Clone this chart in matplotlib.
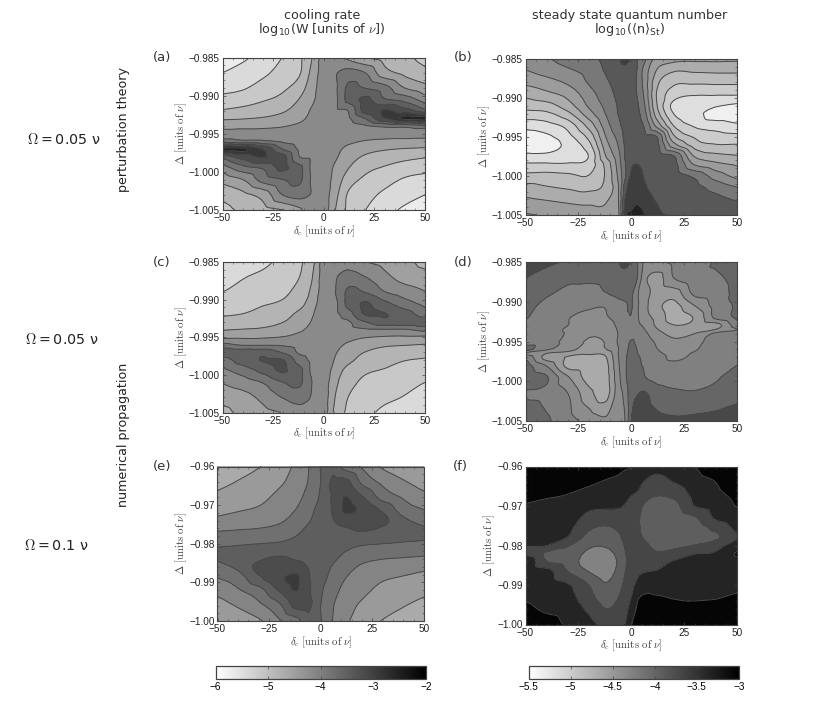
import numpy as np
import matplotlib
matplotlib.use("Agg")
import matplotlib.pyplot as plt
import matplotlib.tri as mtri
from matplotlib.ticker import MultipleLocator, FuncFormatter

plt.rcParams['mathtext.fontset'] = 'cm'
plt.rcParams['font.family'] = ['DejaVu Sans']

# grid positions, the grids are in contour band numbers (0 = lightest band)
delta_c = [-50, -40, -30, -20, -12, -6, 0, 6, 12, 20, 30, 40, 50]
delta_c_fine = [-50, -40, -30, -20, -12, -6, -3, 0, 3, 6, 12, 20, 30, 40, 50]
rows_a = [-.985, -.987, -.989, -.9905, -.992, -.993, -.994, -.995, -.996, -.997, -.998, -.9995, -1.001, -1.003, -1.005]
rows_b = [-.985, -.9865, -.988, -.9895, -.991, -.992, -.9935, -.995, -.996, -.9975, -.9985, -1.0, -1.0015, -1.0035, -1.005]
rows_d = [-.985, -.987, -.989, -.9905, -.992, -.993, -.9935, -.994, -.995, -.996, -.9965, -.997, -.998, -.9995, -1.0015, -1.005]
rows_e = [-.96, -.964, -.968, -.971, -.974, -.976, -.978, -.98, -.982, -.984, -.986, -.989, -.992, -.996, -1.0]
rows_f = [-.96, -.9635, -.967, -.97, -.973, -.9755, -.978, -.98, -.982, -.984, -.9865, -.99, -.993, -.996, -1.0]

bands_a = [.3, .8, 1.4, 2.05, 2.8, 3.95, 5.5, 5.85, 4.8, 4.0, 3.6, 3.2, 2.7], \
    [1.0, 1.4, 1.8, 2.4, 2.9, 4.25, 5.5, 5.95, 6.4, 6.05, 4.37, 3.75, 3.27], \
    [1.7, 1.9, 2.4, 2.85, 3.5, 4.6, 5.5, 5.9, 7.2, 7.0, 6.4, 5.0, 4.37], \
    [2.3, 2.55, 2.9, 3.3, 4.05, 4.8, 5.5, 5.85, 7.3, 8.2, 7.1, 6.6, 5.5], \
    [3.1, 3.3, 3.55, 3.9, 4.5, 5.1, 5.5, 5.85, 6.0, 8.3, 9.1, 8.5, 7.5], \
    [3.85, 3.95, 4.1, 4.4, 4.75, 5.25, 5.5, 5.7, 5.85, 6.95, 8.9, 10.2, 10.4], \
    [4.7, 4.75, 4.8, 4.95, 5.2, 5.35, 5.5, 5.6, 5.7, 5.85, 6.2, 6.3, 6.6], \
    [5.45, 5.45, 5.45, 5.45, 5.5, 5.5, 5.5, 5.5, 5.5, 5.45, 5.45, 5.45, 5.45], \
    [6.6, 6.3, 6.2, 5.85, 5.7, 5.6, 5.5, 5.35, 5.2, 4.95, 4.8, 4.75, 4.7], \
    [10.4, 10.2, 8.9, 6.95, 5.85, 5.7, 5.5, 5.25, 4.75, 4.4, 4.1, 3.95, 3.85], \
    [7.5, 8.5, 9.1, 8.3, 6.0, 5.85, 5.5, 5.1, 4.5, 3.9, 3.55, 3.3, 3.1], \
    [5.5, 6.6, 7.1, 8.2, 7.3, 5.85, 5.5, 4.8, 4.05, 3.3, 2.9, 2.55, 2.3], \
    [4.37, 5.0, 6.4, 7.0, 7.2, 5.9, 5.5, 4.6, 3.5, 2.85, 2.4, 1.9, 1.7], \
    [3.27, 3.75, 4.37, 6.05, 6.4, 5.95, 5.5, 4.25, 2.9, 2.4, 1.8, 1.4, 1.0], \
    [2.7, 3.2, 3.6, 4.0, 4.8, 5.85, 5.5, 3.95, 2.8, 2.05, 1.4, .8, .3]

bands_c = [1.4, 1.7, 1.8, 2.3, 2.85, 3.6, 5.5, 5.95, 5.6, 5.05, 4.7, 4.3, 3.7], \
    [1.6, 1.95, 2.2, 2.5, 3.0, 3.9, 5.5, 5.95, 6.4, 6.05, 5.25, 4.65, 4.4], \
    [2.0, 2.3, 2.6, 2.8, 3.4, 4.2, 5.5, 6.02, 7.2, 7.0, 6.05, 5.5, 5.05], \
    [2.45, 2.6, 2.9, 3.15, 3.6, 4.55, 5.5, 5.85, 7.3, 8.1, 7.25, 6.4, 5.7], \
    [2.9, 3.05, 3.4, 3.65, 4.3, 4.9, 5.5, 5.8, 6.5, 8.0, 8.05, 7.5, 6.6], \
    [3.4, 3.55, 3.7, 4.0, 4.5, 5.05, 5.5, 5.7, 5.85, 6.9, 7.65, 7.6, 7.7], \
    [3.95, 4.05, 4.15, 4.55, 4.85, 5.25, 5.5, 5.65, 5.7, 5.85, 5.9, 5.9, 6.3], \
    [4.8, 4.85, 4.9, 5.05, 5.3, 5.45, 5.5, 5.45, 5.3, 5.05, 4.9, 4.85, 4.8], \
    [6.3, 5.9, 5.9, 5.85, 5.7, 5.65, 5.5, 5.25, 4.85, 4.55, 4.15, 4.05, 3.95], \
    [7.7, 7.6, 7.65, 6.9, 5.85, 5.7, 5.5, 5.05, 4.5, 4.0, 3.7, 3.55, 3.4], \
    [6.6, 7.5, 8.05, 8.0, 6.5, 5.8, 5.5, 4.9, 4.3, 3.65, 3.4, 3.05, 2.9], \
    [5.7, 6.4, 7.25, 8.1, 7.3, 5.85, 5.5, 4.55, 3.6, 3.15, 2.9, 2.6, 2.45], \
    [5.05, 5.5, 6.05, 7.0, 7.2, 6.02, 5.5, 4.2, 3.4, 2.8, 2.6, 2.3, 2.0], \
    [4.4, 4.65, 5.25, 6.05, 6.4, 5.95, 5.5, 3.9, 3.0, 2.5, 2.2, 1.95, 1.6], \
    [3.7, 4.3, 4.7, 5.05, 5.6, 5.95, 5.5, 3.6, 2.85, 2.3, 1.8, 1.7, 1.4]

bands_e = [.35, .65, .95, 1.5, 2.2, 2.95, 4.05, 4.8, 3.6, 2.85, 1.85, 1.4, 1.2], \
    [.7, 1.05, 1.45, 1.85, 2.4, 3.05, 4.0, 5.2, 5.3, 3.8, 2.75, 2.1, 1.6], \
    [1.25, 1.55, 1.75, 2.25, 2.65, 3.4, 4.15, 5.15, 6.05, 5.1, 3.65, 2.9, 2.3], \
    [1.65, 1.9, 2.1, 2.5, 3.0, 3.6, 4.4, 5.1, 6.2, 5.8, 4.8, 3.5, 2.95], \
    [2.25, 2.4, 2.6, 2.85, 3.4, 3.9, 4.5, 4.95, 5.5, 5.5, 5.3, 4.2, 3.65], \
    [2.8, 2.9, 3.0, 3.25, 3.7, 4.15, 4.5, 4.7, 4.95, 5.15, 4.9, 4.5, 4.1], \
    [3.3, 3.4, 3.55, 3.75, 4.0, 4.35, 4.5, 4.6, 4.7, 4.75, 4.65, 4.55, 4.25], \
    [3.75, 3.85, 4.0, 4.1, 4.3, 4.45, 4.5, 4.45, 4.3, 4.1, 4.0, 3.85, 3.75], \
    [4.25, 4.55, 4.65, 4.75, 4.7, 4.6, 4.5, 4.35, 4.0, 3.75, 3.55, 3.4, 3.3], \
    [4.1, 4.5, 4.9, 5.15, 4.95, 4.7, 4.5, 4.15, 3.7, 3.25, 3.0, 2.9, 2.8], \
    [3.65, 4.2, 5.3, 5.5, 5.5, 4.95, 4.5, 3.9, 3.4, 2.85, 2.6, 2.4, 2.25], \
    [2.95, 3.5, 4.8, 5.8, 6.2, 5.1, 4.4, 3.6, 3.0, 2.5, 2.1, 1.9, 1.65], \
    [2.3, 2.9, 3.65, 5.1, 6.05, 5.15, 4.15, 3.4, 2.65, 2.25, 1.75, 1.55, 1.25], \
    [1.6, 2.1, 2.75, 3.8, 5.3, 5.2, 4.0, 3.05, 2.4, 1.85, 1.45, 1.05, .7], \
    [1.2, 1.4, 1.85, 2.85, 3.6, 4.8, 4.05, 2.95, 2.2, 1.5, .95, .65, .35]

bands_b = [6.5, 6.9, 7.4, 7.7, 8.3, 8.9, 9.3, 8.9, 8.0, 7.3, 5.6, 5.35, 5.25, 5.25, 5.2], \
    [5.95, 6.4, 6.85, 7.35, 8.1, 8.6, 8.75, 8.6, 7.9, 6.7, 4.95, 4.1, 4.15, 4.2, 4.2], \
    [5.2, 5.6, 6.15, 7.1, 7.85, 8.4, 8.6, 8.5, 7.8, 6.7, 4.3, 3.2, 3.15, 3.2, 3.2], \
    [4.3, 4.75, 5.35, 6.6, 7.55, 8.25, 8.5, 8.5, 7.9, 6.9, 3.95, 2.55, 2.1, 2.1, 2.1], \
    [3.35, 3.6, 4.55, 6.15, 7.25, 8.1, 8.4, 8.5, 8.1, 7.2, 4.1, 1.7, 1.55, 1.1, .8], \
    [2.65, 2.8, 3.75, 5.6, 7.05, 8.05, 8.35, 8.5, 8.2, 7.45, 4.5, 2.0, 1.4, .5, .5], \
    [1.4, 1.65, 2.4, 4.4, 6.55, 7.8, 8.3, 8.5, 8.35, 7.95, 5.7, 2.95, 1.85, 1.5, 1.15], \
    [.5, .8, 1.65, 3.3, 6.0, 7.35, 8.2, 8.5, 8.5, 8.3, 8.05, 4.25, 2.9, 2.5, 2.35], \
    [.5, .5, 1.3, 2.7, 5.6, 7.1, 8.1, 8.5, 8.5, 8.5, 8.3, 5.35, 3.5, 3.05, 3.05], \
    [1.3, 1.3, 1.2, 2.05, 5.0, 6.7, 8.05, 8.6, 8.7, 8.7, 8.5, 8.1, 4.95, 4.35, 4.1], \
    [2.15, 2.15, 2.15, 2.4, 4.3, 6.5, 7.9, 8.85, 9.0, 8.75, 8.55, 8.35, 5.9, 5.25, 4.85], \
    [3.3, 3.35, 3.2, 3.05, 4.15, 6.25, 7.8, 9.2, 9.4, 8.95, 8.6, 8.5, 7.8, 6.55, 5.7], \
    [4.35, 4.1, 3.9, 3.75, 4.3, 6.0, 8.5, 9.4, 9.6, 9.15, 8.7, 8.55, 8.3, 7.65, 7.05], \
    [5.4, 5.2, 5.0, 4.9, 5.0, 6.0, 9.1, 9.7, 9.95, 9.6, 9.0, 8.7, 8.5, 8.4, 8.1], \
    [6.1, 5.9, 5.6, 5.5, 5.3, 5.85, 9.6, 10.2, 10.6, 10.1, 9.2, 8.95, 8.6, 8.5, 8.4]

bands_d = [5.5, 5.2, 4.9, 4.7, 4.8, 5.0, 5.3, 4.9, 4.05, 2.9, 2.95, 3.2, 3.5, 4.1, 4.5], \
    [5.0, 4.6, 4.2, 4.2, 4.3, 4.5, 4.6, 4.5, 3.95, 2.4, 1.6, 3.0, 3.7, 3.85, 4.3], \
    [4.45, 4.1, 3.8, 3.6, 3.95, 4.25, 4.3, 4.2, 3.1, 2.6, 1.5, 1.4, 3.2, 3.5, 4.3], \
    [4.25, 3.8, 3.55, 3.15, 3.1, 3.65, 3.85, 4.1, 3.1, 2.4, 1.3, .7, 2.0, 3.4, 4.15], \
    [4.05, 3.65, 3.05, 2.75, 2.9, 3.4, 3.7, 3.95, 3.1, 2.5, 1.7, .6, 1.1, 3.2, 4.2], \
    [3.85, 3.5, 3.0, 2.5, 2.5, 3.2, 3.5, 3.8, 3.2, 2.9, 1.85, 1.05, 1.3, 1.6, 3.5], \
    [3.75, 3.5, 2.85, 2.3, 2.35, 3.1, 3.4, 3.65, 3.3, 3.05, 2.1, 1.35, 1.75, 2.05, 3.0], \
    [3.7, 3.45, 2.9, 2.15, 2.3, 3.05, 3.35, 3.55, 3.5, 3.25, 2.4, 1.7, 2.0, 3.2, 3.5], \
    [3.4, 3.3, 2.75, 1.85, 2.1, 3.1, 3.4, 4.1, 3.75, 3.5, 2.85, 2.2, 2.6, 3.55, 3.7], \
    [4.4, 3.1, 2.5, 1.35, 1.95, 3.0, 3.6, 4.3, 3.95, 3.65, 3.05, 2.6, 2.9, 3.7, 3.8], \
    [2.9, 2.0, 1.5, 1.1, 1.25, 3.05, 3.7, 4.4, 4.0, 3.8, 3.2, 2.8, 3.1, 3.75, 3.85], \
    [3.8, 1.6, .9, .8, .95, 3.0, 3.75, 4.5, 4.1, 3.85, 3.35, 2.85, 3.2, 3.8, 3.9], \
    [4.5, 2.9, .7, .6, .7, 2.9, 3.8, 4.6, 4.2, 3.9, 3.4, 3.2, 3.3, 3.85, 4.0], \
    [4.5, 4.1, 2.1, .6, .6, 2.75, 3.75, 4.7, 4.8, 4.1, 3.65, 3.5, 3.55, 3.9, 4.4], \
    [3.95, 3.7, 3.0, 1.3, .6, 2.6, 3.3, 4.7, 4.95, 5.1, 4.5, 4.2, 4.1, 4.3, 4.7], \
    [4.7, 4.15, 3.4, 2.7, 2.2, 2.5, 3.0, 5.0, 5.6, 5.5, 5.3, 5.2, 5.3, 5.4, 5.5]

bands_f = [4.9, 4.8, 4.6, 4.4, 4.3, 4.2, 4.1, 4.05, 4.0, 3.9, 3.4, 3.7, 4.0, 4.5, 5.0], \
    [4.6, 4.5, 4.35, 4.2, 3.98, 3.85, 3.7, 3.6, 3.5, 3.05, 2.7, 3.1, 3.7, 4.05, 4.6], \
    [4.2, 4.1, 4.0, 3.7, 3.5, 3.45, 3.25, 3.05, 2.9, 2.5, 2.1, 2.3, 3.3, 3.8, 4.25], \
    [3.95, 3.85, 3.8, 3.25, 3.15, 3.1, 2.95, 2.75, 2.55, 1.9, 1.5, 1.65, 3.0, 3.45, 4.05], \
    [3.7, 3.6, 3.55, 2.65, 2.5, 2.65, 2.6, 2.55, 2.2, 1.6, 1.4, 1.4, 1.9, 3.15, 3.7], \
    [3.5, 3.4, 3.25, 2.15, 1.9, 2.15, 2.4, 2.45, 2.2, 1.7, 1.45, 1.35, 1.5, 2.3, 3.3], \
    [3.3, 3.2, 2.95, 1.65, 1.45, 1.85, 2.2, 2.4, 2.25, 1.95, 1.55, 1.5, 1.6, 1.85, 2.95], \
    [3.05, 3.0, 2.1, 1.15, 1.1, 1.6, 2.05, 2.35, 2.35, 2.2, 1.75, 1.8, 2.05, 2.6, 3.6], \
    [2.8, 1.85, 1.6, .8, .7, 1.3, 1.95, 2.35, 2.5, 2.45, 2.1, 2.3, 2.95, 3.1, 4.1], \
    [4.1, 2.0, 1.6, .5, .5, 1.15, 1.85, 2.4, 2.65, 2.65, 2.5, 3.05, 3.15, 3.3, 3.8], \
    [3.8, 3.3, 2.0, .95, .5, 1.3, 1.95, 2.55, 2.85, 2.95, 3.05, 3.35, 3.35, 3.45, 3.75], \
    [3.7, 3.45, 3.1, 2.0, 1.1, 1.7, 2.2, 2.75, 3.2, 3.5, 3.6, 3.65, 3.65, 3.7, 3.85], \
    [3.9, 3.6, 3.35, 2.35, 1.55, 2.0, 2.45, 3.0, 3.85, 4.1, 4.05, 3.95, 3.9, 3.95, 4.1], \
    [4.2, 3.85, 3.6, 2.8, 2.0, 2.3, 2.7, 3.35, 4.15, 4.3, 4.3, 4.2, 4.2, 4.2, 4.4], \
    [4.6, 4.4, 3.85, 3.35, 2.7, 2.85, 3.0, 3.95, 4.4, 4.6, 4.6, 4.5, 4.5, 4.6, 4.8]

# grey of each band
greys_ac = ['#ececec', '#dadada', '#c8c8c8', '#b4b4b4', '#a0a0a0', '#8a8a8a', '#747474', '#606060', '#4c4c4c', '#383838', '#242424']
greys_b = ['#f0f0f0', '#dedede', '#cccccc', '#bcbcbc', '#acacac', '#9c9c9c', '#8c8c8c', '#787878', '#585858', '#3e3e3e', '#222222']
greys_d = ['#aaaaaa', '#9a9a9a', '#8c8c8c', '#808080', '#666666', '#484848']
greys_e = ['#aaaaaa', '#9a9a9a', '#848484', '#707070', '#5e5e5e', '#4c4c4c', '#3a3a3a']
greys_f = ['#828282', '#5e5e5e', '#464646', '#242424', '#050505', '#000000']

W, H = 814, 723
fig = plt.figure(figsize=(W / 100, H / 100), dpi=100)
EDGE = '#444444'
TICKFONT = ['Liberation Sans', 'DejaVu Sans']


def px_axes(x0, y0, x1, y1):
    return fig.add_axes([x0 / W, 1 - y1 / H, (x1 - x0) / W, (y1 - y0) / H])


def smooth_field(xs, ys, grid, top):
    # cubic refinement of the read values, so contours come out round
    nx, ny = len(xs), len(ys)
    X, Y = np.meshgrid(xs, ys)
    tris = []
    for j in range(ny - 1):
        for i in range(nx - 1):
            a = j * nx + i
            tris.append([a, a + 1, a + nx])
            tris.append([a + 1, a + nx + 1, a + nx])
    tri = mtri.Triangulation(X.ravel(), Y.ravel(), tris)
    refiner = mtri.UniformTriRefiner(tri)
    interp = mtri.CubicTriInterpolator(tri, np.ravel(grid), kind='geom')
    fine_tri, fine_z = refiner.refine_field(np.ravel(grid), triinterpolator=interp, subdiv=3)
    return fine_tri, np.clip(fine_z, 0, top)


def panel(box, xs, ys, grid, greys, ylim, ymajor, yminor, ydec, letter, letter_pos):
    ax = px_axes(*box)
    levels = np.arange(len(greys) + 1)
    fine_tri, fine_z = smooth_field(xs, ys, grid, len(greys))
    ax.tricontourf(fine_tri, fine_z, levels=levels, colors=greys)
    ax.tricontour(fine_tri, fine_z, levels=levels[1:-1], colors='#484848', linewidths=0.7)
    ax.set_xlim(-50, 50)
    ax.set_ylim(*ylim)
    ax.xaxis.set_major_locator(MultipleLocator(25))
    ax.xaxis.set_minor_locator(MultipleLocator(5))
    ax.yaxis.set_major_locator(MultipleLocator(ymajor))
    ax.yaxis.set_minor_locator(MultipleLocator(yminor))
    ax.yaxis.set_major_formatter(FuncFormatter(lambda v, p: ('%.*f' % (ydec, v)).replace('-', '\u2212')))
    ax.tick_params(which='major', direction='in', top=True, right=True, length=2.5, width=0.5, color=EDGE,
                   labelsize=7.2, labelcolor='#222222')
    ax.tick_params(which='minor', direction='in', top=True, right=True, length=1.2, width=0.4, color=EDGE)
    ax.tick_params(axis='x', which='major', pad=2.5)
    ax.tick_params(axis='y', which='major', pad=2)
    for lab in ax.get_xticklabels() + ax.get_yticklabels():
        lab.set_fontfamily(TICKFONT)
    for s in ax.spines.values():
        s.set_color(EDGE)
        s.set_linewidth(0.8)
    ax.set_xlabel(r'$\delta_c\ [\mathrm{units\ of\ }\nu]$', fontsize=7.8, labelpad=0, color='#444444')
    ax.set_ylabel(r'$\Delta\ [\mathrm{units\ of\ }\nu]$', fontsize=7.8, labelpad=0, color='#444444')
    fig.text(letter_pos[0] / W, 1 - letter_pos[1] / H, letter, fontsize=9.5, color='#333333', va='center')
    return ax


panel((222.5, 57.5, 425, 210), delta_c, rows_a, bands_a, greys_ac, (-1.005, -.985), .005, .001, 3, '(a)', (153, 58))
panel((525.5, 59, 737, 215), delta_c_fine, rows_b, bands_b, greys_b, (-1.005, -.985), .005, .001, 3, '(b)', (454, 58))
panel((222.5, 262, 425, 412.5), delta_c, rows_a, bands_c, greys_ac, (-1.005, -.985), .005, .001, 3, '(c)', (153, 262))
panel((525.5, 262, 737, 421), delta_c_fine, rows_d, bands_d, greys_d, (-1.005, -.985), .005, .001, 3, '(d)', (454, 262))
panel((217.5, 466.5, 424, 621), delta_c, rows_e, bands_e, greys_e, (-1.0, -.96), .01, .002, 2, '(e)', (153, 466))
panel((525.5, 466.5, 737, 624.5), delta_c_fine, rows_f, bands_f, greys_f, (-1.0, -.96), .01, .002, 2, '(f)', (453, 466))

# colour bars
cbar_ticks_w = [-6, -5, -4, -3, -2]
cbar_ticks_n = [-5.5, -5, -4.5, -4, -3.5, -3]
for box, lo, hi, ticks in [((215.5, 665.5, 426, 679), -6, -2, cbar_ticks_w),
                           ((528.5, 665.5, 739, 679), -5.5, -3, cbar_ticks_n)]:
    cax = px_axes(*box)
    sm = plt.cm.ScalarMappable(norm=plt.Normalize(lo, hi), cmap='gray_r')
    cb = fig.colorbar(sm, cax=cax, orientation='horizontal')
    cb.set_ticks(ticks)
    cb.set_ticklabels([('\u2212%g' % abs(t)) for t in ticks])
    cb.ax.tick_params(direction='in', top=True, length=2, width=0.5, labelsize=7.2, pad=2, color=EDGE)
    for lab in cb.ax.get_xticklabels():
        lab.set_fontfamily(TICKFONT)
    cb.outline.set_edgecolor(EDGE)
    cb.outline.set_linewidth(0.9)

# column headers and row labels
head = dict(fontsize=9.2, color='#333333', ha='center', va='center')
fig.text(322 / W, 1 - 15 / H, 'cooling rate', **head)
fig.text(322 / W, 1 - 30 / H, r'log$_{\mathdefault{10}}$(W [units of $\nu$])', **head)
fig.text(630 / W, 1 - 15 / H, 'steady state quantum number', **head)
fig.text(630 / W, 1 - 30 / H, r'log$_{\mathdefault{10}}$(⟨n⟩$_{\mathdefault{St}}$)', **head)

side = dict(fontsize=10.3, color='#222222', va='center', ha='left')
fig.text(27 / W, 1 - 139 / H, '$\\Omega$\u2009=\u20090.05 ν', **side)
fig.text(25 / W, 1 - 340 / H, '$\\Omega$\u2009=\u20090.05 ν', **side)
fig.text(24 / W, 1 - 545 / H, '$\\Omega$\u2009=\u20090.1 ν', **side)
vert = dict(fontsize=9.1, color='#222222', va='center', ha='center', rotation=90)
fig.text(124 / W, 1 - 130 / H, 'perturbation theory', **vert)
fig.text(123 / W, 1 - 435 / H, 'numerical propagation', **vert)

fig.savefig('out.png', dpi=100)
